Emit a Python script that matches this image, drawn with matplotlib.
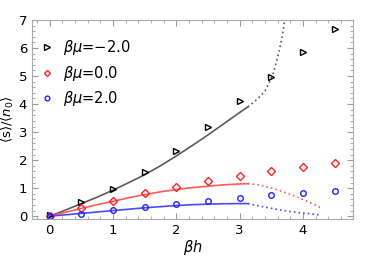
import matplotlib
matplotlib.use('Agg')
import matplotlib.pyplot as plt
from matplotlib.ticker import MultipleLocator

# sample points
bh = [0, 0.5, 1, 1.5, 2, 2.5, 3, 3.5, 4, 4.5]
s_m2 = [0.05, 0.5, 0.97, 1.58, 2.33, 3.18, 4.12, 4.97, 5.87, 6.68]
s_0 = [0.02, 0.28, 0.56, 0.82, 1.05, 1.25, 1.45, 1.62, 1.77, 1.9]
s_p2 = [0.02, 0.09, 0.22, 0.33, 0.45, 0.56, 0.65, 0.75, 0.84, 0.91]

# theory curves, solid part
xs = [0, 0.25, 0.5, 0.75, 1, 1.25, 1.5, 1.75, 2, 2.25, 2.5, 2.75, 3, 3.13]
c_m2 = [0, 0.22, 0.45, 0.68, 0.93, 1.2, 1.48, 1.8, 2.15, 2.52, 2.9, 3.3, 3.7, 3.9]
c_0 = [0, 0.14, 0.28, 0.41, 0.53, 0.66, 0.77, 0.87, 0.95, 1.02, 1.07, 1.12, 1.15, 1.16]
c_p2 = [0, 0.05, 0.1, 0.15, 0.2, 0.25, 0.3, 0.34, 0.38, 0.41, 0.43, 0.445, 0.45, 0.45]

# theory curves, dotted part
xd_m2 = [3.13, 3.24, 3.32, 3.4, 3.47, 3.53, 3.58, 3.63, 3.67, 3.72]
d_m2 = [3.9, 4.1, 4.27, 4.47, 4.78, 5.1, 5.5, 5.95, 6.4, 7.1]
xd_0 = [3.13, 3.3, 3.53, 3.75, 3.92, 4.1, 4.27]
d_0 = [1.16, 1.12, 0.99, 0.82, 0.67, 0.5, 0.31]
xd_p2 = [3.13, 3.3, 3.53, 3.75, 3.92, 4.1, 4.29]
d_p2 = [0.45, 0.37, 0.27, 0.18, 0.13, 0.09, 0.04]

labels = [r'$\beta\mu$=−2.0', r'$\beta\mu$=0.0', r'$\beta\mu$=2.0']

plt.rcParams['font.family'] = ['DejaVu Sans']
plt.rcParams['mathtext.fontset'] = 'dejavusans'

fig = plt.figure(figsize=(3.74, 2.58), dpi=100)
ax = fig.add_axes([32 / 374, 1 - 219 / 258, (353 - 32) / 374, (219 - 20) / 258])

dots = (0, (1, 1.8))
ax.plot(xs, c_m2, color='#5a5a5a', lw=1.2)
ax.plot(xd_m2, d_m2, color='#5a5a5a', lw=1.2, ls=dots)
ax.plot(xs, c_0, color='#ff5a5a', lw=1.2)
ax.plot(xd_0, d_0, color='#ff5a5a', lw=1.2, ls=dots)
ax.plot(xs, c_p2, color='#4a4aff', lw=1.2)
ax.plot(xd_p2, d_p2, color='#4a4aff', lw=1.2, ls=dots)

ax.plot(bh, s_m2, '>', ms=4.3, mfc='none', mec='black', mew=1.0, ls='none', label=labels[0])
ax.plot(bh, s_0, 'D', ms=3.6, mfc='none', mec='#ff2222', mew=1.0, ls='none', label=labels[1])
ax.plot(bh, s_p2, 'o', ms=4.0, mfc='none', mec='#2222ff', mew=1.0, ls='none', label=labels[2])

ax.set_xlim(-0.28, 4.79)
ax.set_ylim(-0.1, 7)
ax.xaxis.set_major_locator(MultipleLocator(1))
ax.xaxis.set_minor_locator(MultipleLocator(0.2))
ax.yaxis.set_major_locator(MultipleLocator(1))
ax.yaxis.set_minor_locator(MultipleLocator(0.2))
ax.tick_params(which='both', direction='in', top=True, right=True, colors='#999999',
               labelcolor='black', labelsize=9.5)
ax.tick_params(which='major', length=4, width=0.8)
ax.tick_params(which='minor', length=2, width=0.6)
for sp in ax.spines.values():
    sp.set_color('#aaaaaa')

ax.set_xlabel(r'$\beta h$', fontsize=10.5, labelpad=1)
ax.set_ylabel(r'$\langle \mathrm{s}\rangle/\langle n_0\rangle$', fontsize=9.5, labelpad=2)

ax.legend(loc='upper left', bbox_to_anchor=(-0.02, 0.975), frameon=False, fontsize=10.5,
          handletextpad=0.5, labelspacing=0.45, handlelength=1.2, markerscale=0.85)

fig.savefig('out.png', dpi=100)
